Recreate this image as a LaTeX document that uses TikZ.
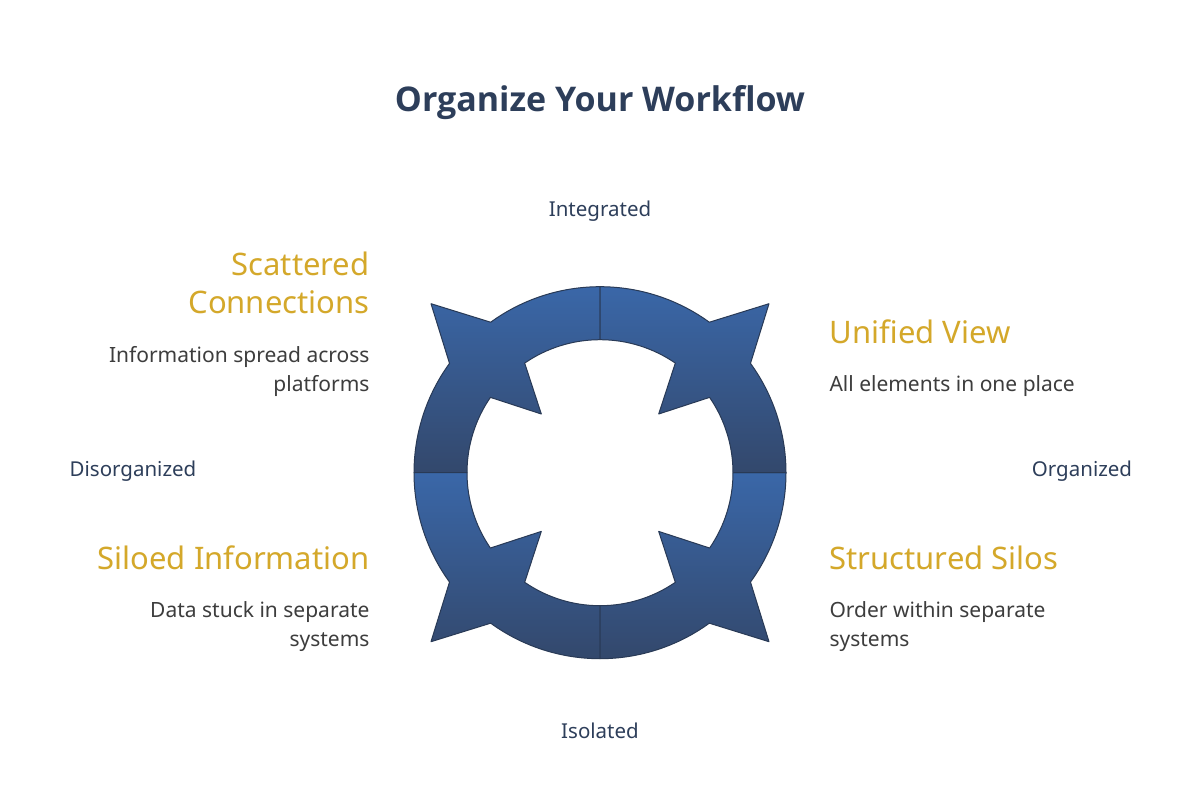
\documentclass[tikz,border=0pt]{standalone}
\usepackage{fontspec}
\setmainfont{Noto Sans}
\newfontfamily\titlefont{Open Sans}
\definecolor{navy}{HTML}{2D3E5A}
\definecolor{gold}{HTML}{D4A82A}
\definecolor{body}{HTML}{3D3D3D}
\definecolor{bluehi}{HTML}{3A67A8}
\definecolor{bluelo}{HTML}{33486C}
\newcommand\quadpath[1]{(#1+90:186) arc[start angle=#1+90,end angle=#1+126,radius=186] -- (#1+135:239) -- (#1+144:186) arc[start angle=#1+144,end angle=#1+180,radius=186] -- (#1+180:133) arc[start angle=#1+180,end angle=#1+145.5,radius=133] -- (#1+135:83) -- (#1+124.5:133) arc[start angle=#1+124.5,end angle=#1+90,radius=133] -- cycle}
\begin{document}
\begin{tikzpicture}[x=1pt,y=1pt,
  quad/.style={draw=bluelo!80!black,line width=1pt,line join=round,top color=bluehi,bottom color=bluelo},
  axis/.style={text=navy,font=\fontsize{20.5}{24}\selectfont},
  head/.style={text=gold,font=\fontsize{31}{38}\selectfont},
  desc/.style={text=body,font=\fontsize{21}{29}\selectfont}]
\useasboundingbox[fill=white] (0,0) rectangle (1200,-787);
\node[text=navy,font=\titlefont\bfseries\fontsize{34}{40}\selectfont] (title) at (600,-103) {Organize Your Workflow};
\begin{scope}[shift={(600,-472.7)}]
  \path[quad] \quadpath{0};
  \path[quad] \quadpath{90};
  \path[quad] \quadpath{180};
  \path[quad] \quadpath{270};
\end{scope}
\node[axis] (int) at (600,-211) {Integrated};
\node[axis] (iso) at (600,-731) {Isolated};
\node[axis] (dis) at (133,-471) {Disorganized};
\node[axis] (org) at (1082,-471) {Organized};
\node[head,anchor=north east,align=right] (sc) at (373,-248) {Scattered\\Connections};
\node[desc,anchor=north east,align=right] (scd) at (373,-343) {Information spread across\\platforms};
\node[head,anchor=north west,align=left] (uv) at (826,-316) {Unified View};
\node[desc,anchor=north west,align=left] (uvd) at (826,-372) {All elements in one place};
\node[head,anchor=north east,align=right] (si) at (373,-542) {Siloed Information};
\node[desc,anchor=north east,align=right] (sid) at (373,-598) {Data stuck in separate\\systems};
\node[head,anchor=north west,align=left] (ss) at (826,-542) {Structured Silos};
\node[desc,anchor=north west,align=left] (ssd) at (826,-598) {Order within separate\\systems};
\end{tikzpicture}
\end{document}
